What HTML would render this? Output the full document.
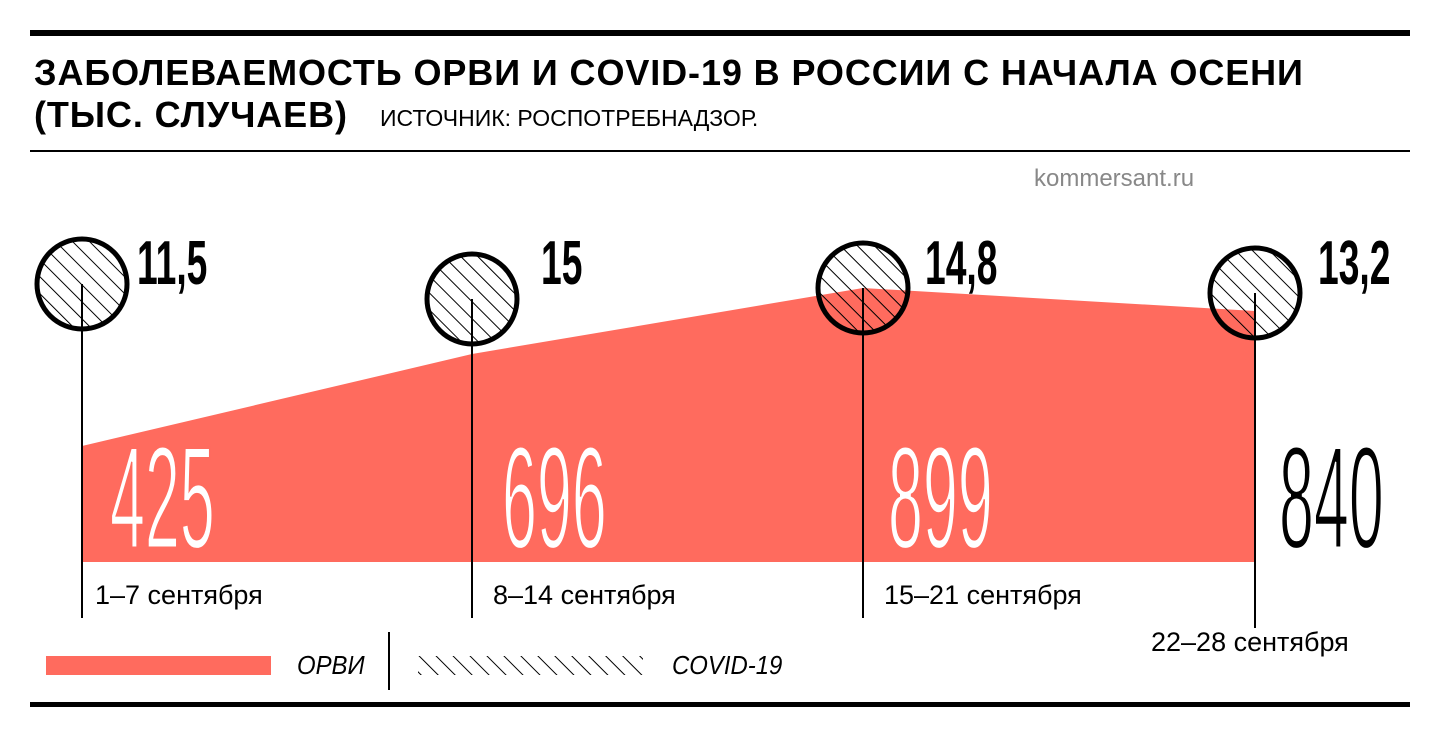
<!DOCTYPE html>
<html><head><meta charset="utf-8"><style>
body{margin:0;background:#fff;width:1440px;height:738px;overflow:hidden;font-family:"Liberation Sans",sans-serif}
.t{position:absolute;white-space:nowrap}
.big{font-size:146px;transform:scaleX(0.43);transform-origin:left}
.w{color:#fff;-webkit-text-stroke:3px #ff6b5e}
.k{color:#000;-webkit-text-stroke:3px #fff}
.top{font-size:62px;font-weight:bold;transform:scaleX(0.6);transform-origin:left}
</style></head><body>
<svg width="1440" height="738" style="position:absolute;left:0;top:0">
<defs>
<pattern id="h" patternUnits="userSpaceOnUse" width="12" height="12" patternTransform="rotate(-45)">
<line x1="0" y1="0" x2="0" y2="12" stroke="#000" stroke-width="2"/>
</pattern>
</defs>
<rect x="30" y="30" width="1380" height="6" fill="#000"/>
<rect x="30" y="150" width="1380" height="2" fill="#000"/>
<rect x="30" y="702" width="1380" height="5" fill="#000"/>
<polygon points="82,446 472,354 863,288 1255,311 1255,562 82,562" fill="#ff6b5e"/>
<g stroke="#000" stroke-width="2">
<line x1="82" y1="284" x2="82" y2="618"/>
<line x1="472" y1="299" x2="472" y2="618"/>
<line x1="863" y1="288" x2="863" y2="618"/>
<line x1="1255" y1="293" x2="1255" y2="628"/>
<line x1="389" y1="632" x2="389" y2="690"/>
</g>
<g stroke="#000" stroke-width="5" fill="url(#h)">
<circle cx="82" cy="284" r="45"/>
<circle cx="472" cy="299" r="45"/>
<circle cx="863" cy="288" r="45"/>
<circle cx="1255" cy="293" r="45"/>
</g>
<rect x="46" y="656" width="225" height="19" fill="#ff6b5e"/>
<rect x="418" y="656" width="225" height="19" fill="url(#h)"/>
</svg>
<div class="t" style="left:34px;top:52px;font-size:36px;font-weight:bold;letter-spacing:0.9px">ЗАБОЛЕВАЕМОСТЬ ОРВИ И COVID-19 В РОССИИ С НАЧАЛА ОСЕНИ</div>
<div class="t" style="left:34px;top:94px;font-size:36px;font-weight:bold;letter-spacing:0.9px">(ТЫС. СЛУЧАЕВ)</div>
<div class="t" style="left:380px;top:105px;font-size:23px">ИСТОЧНИК: РОСПОТРЕБНАДЗОР.</div>
<div class="t" style="left:1034px;top:165px;font-size:24px;color:#888">kommersant.ru</div>
<div class="t top" style="left:137px;top:228px">11,5</div>
<div class="t top" style="left:541px;top:228px">15</div>
<div class="t top" style="left:925px;top:228px">14,8</div>
<div class="t top" style="left:1318px;top:228px">13,2</div>
<div class="t big w" style="left:110px;top:414px">425</div>
<div class="t big w" style="left:502px;top:414px">696</div>
<div class="t big w" style="left:888px;top:414px">899</div>
<div class="t big k" style="left:1279px;top:414px">840</div>
<div class="t" style="left:95px;top:580px;font-size:27px">1–7 сентября</div>
<div class="t" style="left:493px;top:580px;font-size:27px">8–14 сентября</div>
<div class="t" style="left:884px;top:580px;font-size:27px">15–21 сентября</div>
<div class="t" style="left:1151px;top:627px;font-size:27px">22–28 сентября</div>
<div class="t" style="left:297px;top:650px;font-size:26px;font-style:italic;transform:scaleX(0.92);transform-origin:left">ОРВИ</div>
<div class="t" style="left:672px;top:650px;font-size:26px;font-style:italic;transform:scaleX(0.92);transform-origin:left">COVID-19</div>
</body></html>
